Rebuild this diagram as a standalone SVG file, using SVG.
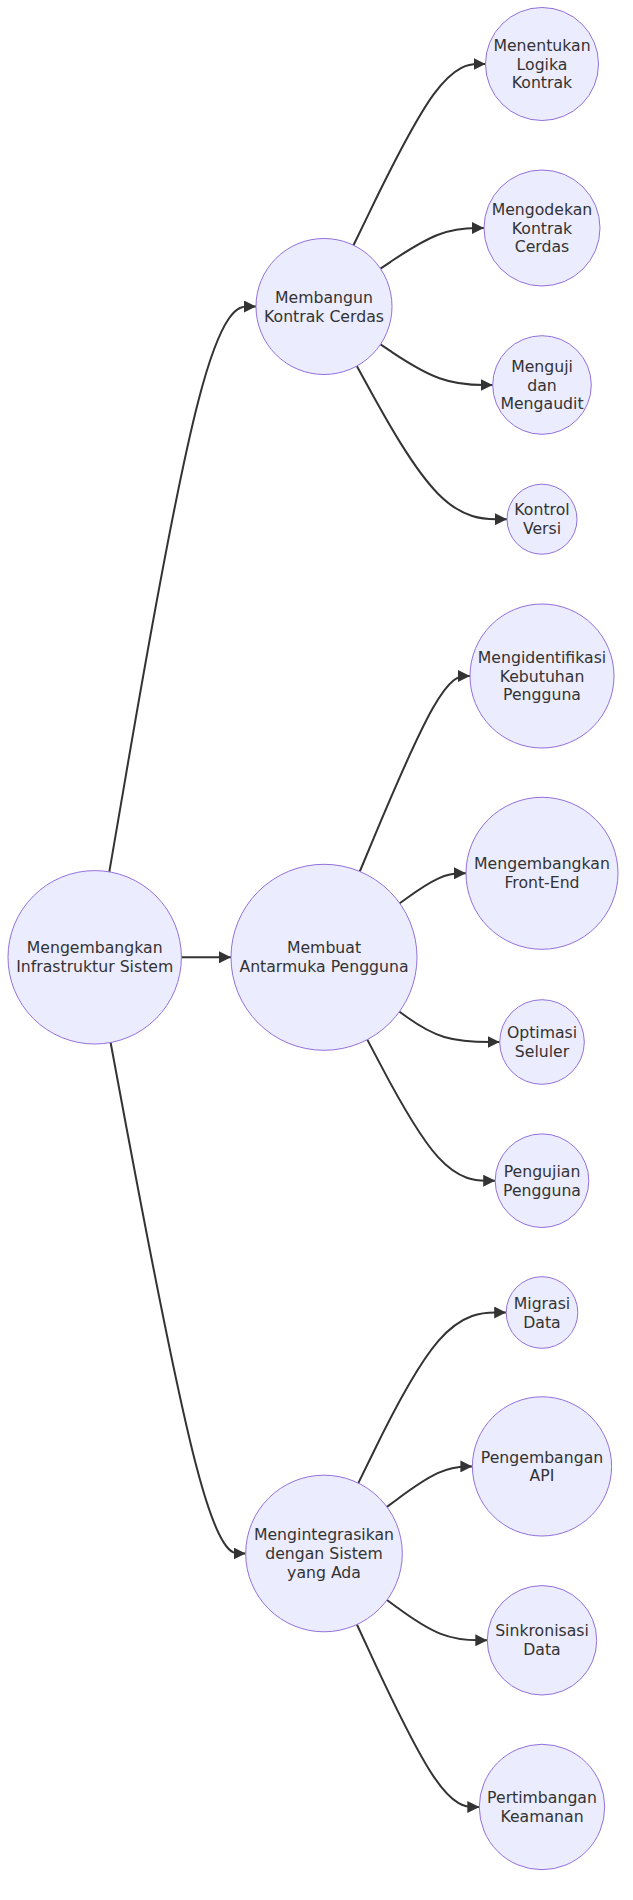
<svg xmlns="http://www.w3.org/2000/svg" width="633" height="1900" viewBox="0 0 633 1900">
<style>
.node circle{fill:#ECECFF;stroke:#9370DB;stroke-width:1}
.node text{font-family:"DejaVu Sans",Verdana,sans-serif;font-size:15.7px;fill:#333333;text-anchor:middle}
.edge{fill:none;stroke:#333333;stroke-width:2}
</style>
<defs>
<marker id="arrow" viewBox="0 0 10 10" refX="10" refY="5" markerWidth="12" markerHeight="12" markerUnits="userSpaceOnUse" orient="auto">
<path d="M0,0 L10,5 L0,10 z" fill="#333333"/>
</marker>
</defs>
<g id="edges">
<path class="edge" marker-end="url(#arrow)" d="M109.3,871.9 L125.5,777.6 C141.6,683.4 173.9,495 198.4,400.7 C222.8,306.5 239.4,306.5 247.7,306.5 L256,306.5"/>
<path class="edge" marker-end="url(#arrow)" d="M181.4,957.3 L231,957.3"/>
<path class="edge" marker-end="url(#arrow)" d="M110.6,1042.5 L126.5,1127.7 C142.5,1212.8 174.3,1383.2 196.9,1468.3 C219.4,1553.5 232.5,1553.5 239.1,1553.5 L245.7,1553.5"/>
<path class="edge" marker-end="url(#arrow)" d="M353.5,245.3 L368.1,215.1 C382.7,184.9 411.8,124.4 433.8,94.2 C455.8,64 470.7,64 478.1,64 L485.5,64"/>
<path class="edge" marker-end="url(#arrow)" d="M380.5,268.6 L390.6,261.8 C400.7,255.1 420.8,241.5 438.1,234.8 C455.3,228 469.7,228 476.8,228 L484,228"/>
<path class="edge" marker-end="url(#arrow)" d="M380.5,344.4 L390.6,351.2 C400.7,357.9 420.8,371.5 439.5,378.2 C458.2,385 475.5,385 484.1,385 L492.7,385"/>
<path class="edge" marker-end="url(#arrow)" d="M356.8,366.1 L370.8,391.6 C384.9,417.1 412.9,468.2 438,493.7 C463,519.2 485,519.2 496,519.2 L507,519.2"/>
<path class="edge" marker-end="url(#arrow)" d="M359.8,871.5 L373.4,838.9 C387,806.3 414.3,741.2 432.6,708.6 C451,676 460.5,676 465.3,676 L470,676"/>
<path class="edge" marker-end="url(#arrow)" d="M399.7,903.2 L406.7,898.2 C413.6,893.2 427.6,883.3 438.6,878.3 C449.7,873.3 457.8,873.3 461.9,873.3 L466,873.3"/>
<path class="edge" marker-end="url(#arrow)" d="M399.5,1011.7 L406.5,1016.8 C413.5,1021.8 427.5,1031.9 444.2,1037 C460.9,1042 480.3,1042 490,1042 L499.7,1042"/>
<path class="edge" marker-end="url(#arrow)" d="M367.3,1039.6 L379.7,1063.1 C392,1086.6 416.8,1133.7 438.1,1157.2 C459.4,1180.7 477.3,1180.7 486.3,1180.7 L495.2,1180.7"/>
<path class="edge" marker-end="url(#arrow)" d="M358.3,1483.1 L372.2,1454.7 C386,1426.2 413.8,1369.4 438.4,1340.9 C463.1,1312.5 484.6,1312.5 495.4,1312.5 L506.2,1312.5"/>
<path class="edge" marker-end="url(#arrow)" d="M386.9,1506.9 L396,1500.2 C405.1,1493.4 423.3,1479.9 437.6,1473.2 C451.8,1466.4 462.1,1466.4 467.3,1466.4 L472.4,1466.4"/>
<path class="edge" marker-end="url(#arrow)" d="M387,1600 L396.1,1606.7 C405.2,1613.4 423.3,1626.9 440.1,1633.6 C456.8,1640.3 472,1640.3 479.7,1640.3 L487.3,1640.3"/>
<path class="edge" marker-end="url(#arrow)" d="M356.9,1624.5 L371,1654.9 C385.1,1685.3 413.3,1746.2 433.7,1776.6 C454.1,1807 466.7,1807 473,1807 L479.3,1807"/>
</g>
<g id="n0" class="node"><circle cx="94.7" cy="957.3" r="86.7"/><text x="94.7" y="953.4">Mengembangkan</text><text x="94.7" y="972.3">Infrastruktur Sistem</text></g>
<g id="n1" class="node"><circle cx="324" cy="306.5" r="68"/><text x="324" y="302.6">Membangun</text><text x="324" y="321.5">Kontrak Cerdas</text></g>
<g id="n2" class="node"><circle cx="324" cy="957.3" r="93"/><text x="324" y="953.4">Membuat</text><text x="324" y="972.3">Antarmuka Pengguna</text></g>
<g id="n3" class="node"><circle cx="324" cy="1553.5" r="78.3"/><text x="324" y="1540.1">Mengintegrasikan</text><text x="324" y="1559">dengan Sistem</text><text x="324" y="1577.9">yang Ada</text></g>
<g id="n4" class="node"><circle cx="542" cy="64" r="56.5"/><text x="542" y="50.6">Menentukan</text><text x="542" y="69.5">Logika</text><text x="542" y="88.4">Kontrak</text></g>
<g id="n5" class="node"><circle cx="542" cy="228" r="58"/><text x="542" y="214.6">Mengodekan</text><text x="542" y="233.5">Kontrak</text><text x="542" y="252.4">Cerdas</text></g>
<g id="n6" class="node"><circle cx="542" cy="385" r="49.3"/><text x="542" y="371.6">Menguji</text><text x="542" y="390.5">dan</text><text x="542" y="409.4">Mengaudit</text></g>
<g id="n7" class="node"><circle cx="542" cy="519.2" r="35"/><text x="542" y="515.3">Kontrol</text><text x="542" y="534.2">Versi</text></g>
<g id="n8" class="node"><circle cx="542" cy="676" r="72"/><text x="542" y="662.6">Mengidentifikasi</text><text x="542" y="681.5">Kebutuhan</text><text x="542" y="700.4">Pengguna</text></g>
<g id="n9" class="node"><circle cx="542" cy="873.3" r="76"/><text x="542" y="869.4">Mengembangkan</text><text x="542" y="888.3">Front-End</text></g>
<g id="n10" class="node"><circle cx="542" cy="1042" r="42.3"/><text x="542" y="1038.1">Optimasi</text><text x="542" y="1057">Seluler</text></g>
<g id="n11" class="node"><circle cx="542" cy="1180.7" r="46.8"/><text x="542" y="1176.8">Pengujian</text><text x="542" y="1195.7">Pengguna</text></g>
<g id="n12" class="node"><circle cx="542" cy="1312.5" r="35.8"/><text x="542" y="1308.6">Migrasi</text><text x="542" y="1327.5">Data</text></g>
<g id="n13" class="node"><circle cx="542" cy="1466.4" r="69.6"/><text x="542" y="1462.5">Pengembangan</text><text x="542" y="1481.4">API</text></g>
<g id="n14" class="node"><circle cx="542" cy="1640.3" r="54.7"/><text x="542" y="1636.4">Sinkronisasi</text><text x="542" y="1655.3">Data</text></g>
<g id="n15" class="node"><circle cx="542" cy="1807" r="62.7"/><text x="542" y="1803.1">Pertimbangan</text><text x="542" y="1822">Keamanan</text></g>
</svg>
